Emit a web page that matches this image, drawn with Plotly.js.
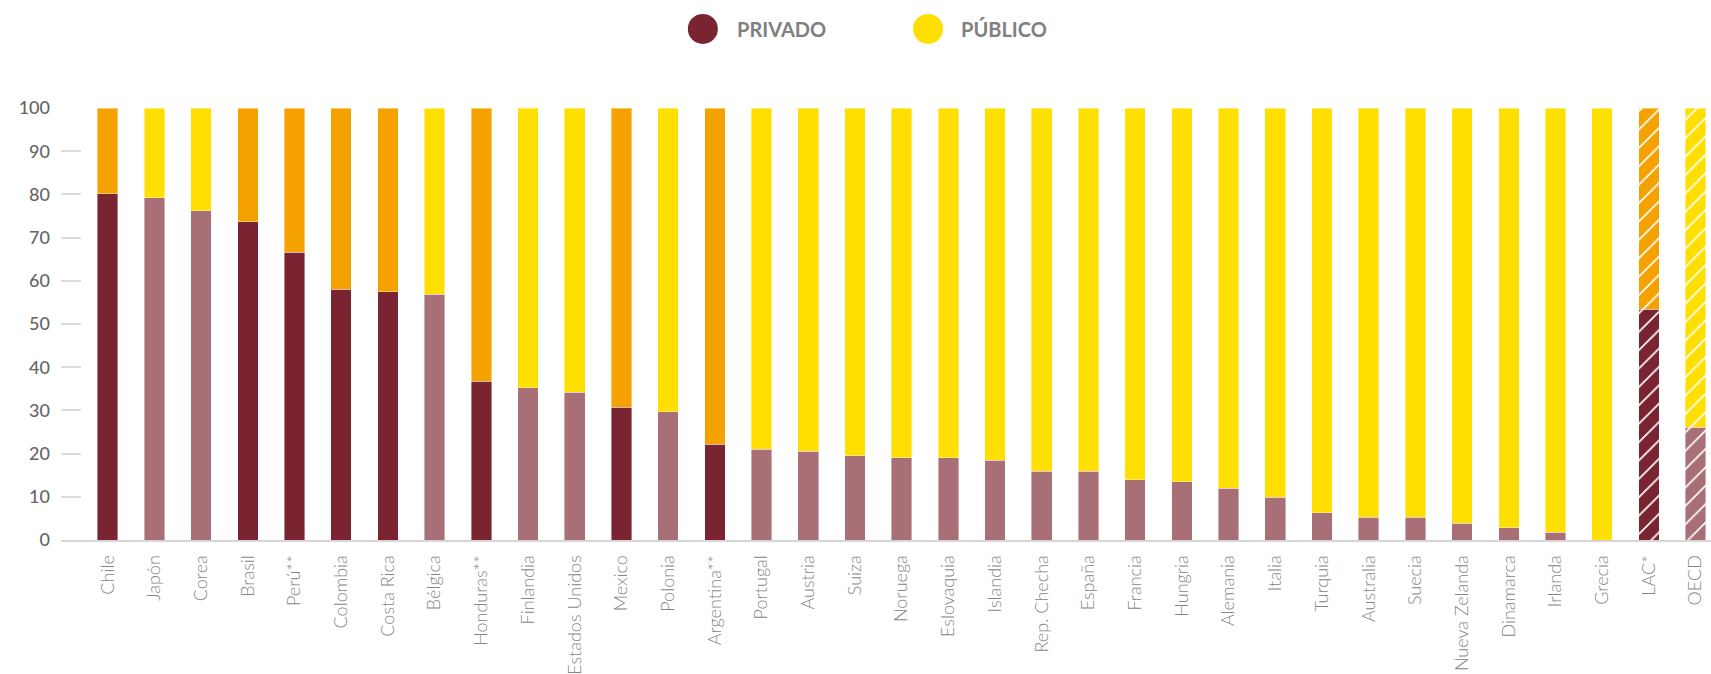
<!DOCTYPE html>
<html>
<head>
<meta charset="utf-8">
<script src="https://cdn.plot.ly/plotly-3.0.1.min.js"></script>
<style>
  html, body { margin: 0; padding: 0; background: #ffffff; }
  #chart { width: 1711px; height: 674px; }
</style>
</head>
<body>
<div id="chart"></div>
<script>
// ---- Data ----
const categories = ["Chile", "Japón", "Corea", "Brasil", "Perú**", "Colombia", "Costa Rica", "Bélgica",
  "Honduras**", "Finlandia", "Estados Unidos", "Mexico", "Polonia", "Argentina**", "Portugal", "Austria",
  "Suiza", "Noruega", "Eslovaquia", "Islandia", "Rep. Checha", "España", "Francia", "Hungria",
  "Alemania", "Italia", "Turquia", "Australia", "Suecia", "Nueva Zelanda", "Dinamarca", "Irlanda",
  "Grecia", "LAC*", "OECD"];
const groups = ["LAC", "OECD", "OECD", "LAC", "LAC", "LAC", "LAC", "OECD",
  "LAC", "OECD", "OECD", "LAC", "OECD", "LAC", "OECD", "OECD",
  "OECD", "OECD", "OECD", "OECD", "OECD", "OECD", "OECD", "OECD",
  "OECD", "OECD", "OECD", "OECD", "OECD", "OECD", "OECD", "OECD",
  "OECD", "LAC-AVG", "OECD-AVG"];
const privado = [80.2, 79.2, 76.2, 73.7, 66.6, 58.0, 57.5, 56.9,
  36.7, 35.2, 34.2, 30.7, 29.7, 22.2, 21.0, 20.6,
  19.5, 19.0, 19.0, 18.5, 15.9, 15.9, 13.9, 13.5,
  12.0, 9.9, 6.3, 5.3, 5.3, 3.9, 2.8, 1.8,
  0.0, 53.4, 26.1];
const publico = [19.8, 20.8, 23.8, 26.3, 33.4, 42.0, 42.5, 43.1,
  63.3, 64.8, 65.8, 69.3, 70.3, 77.8, 79.0, 79.4,
  80.5, 81.0, 81.0, 81.5, 84.1, 84.1, 86.1, 86.5,
  88.0, 90.1, 93.7, 94.7, 94.7, 96.1, 97.2, 98.2,
  100.0, 46.6, 73.9];
const yTicks = [0, 10, 20, 30, 40, 50, 60, 70, 80, 90, 100];
const seriesNames = ["PRIVADO", "PÚBLICO"];

// ---- Styles ----
const palette = {
  LAC:  { privado: "#7A2331", publico: "#F5A100" },
  OECD: { privado: "#A86F76", publico: "#FFDF00" }
};
const baseGroup = g => g.startsWith("LAC") ? "LAC" : "OECD";
const isAvg = g => g.endsWith("AVG");
const BAR_W = 0.44;
const edge = { width: 0.6, color: "rgba(255,255,255,0.7)" };

const mainIdx = categories.map((c, i) => i).filter(i => !isAvg(groups[i]));
const avgIdx = categories.map((c, i) => i).filter(i => isAvg(groups[i]));

function mainTrace(name, values, key) {
  return {
    type: "bar",
    name: name,
    x: mainIdx.map(i => categories[i]),
    y: mainIdx.map(i => values[i]),
    width: BAR_W,
    marker: { color: mainIdx.map(i => palette[baseGroup(groups[i])][key]), line: edge },
    hoverinfo: "x+y"
  };
}

function avgTrace(name, values, key, i) {
  const col = palette[baseGroup(groups[i])][key];
  return {
    type: "bar",
    name: name,
    x: [categories[i]],
    y: [values[i]],
    width: BAR_W,
    marker: {
      color: col,
      line: edge,
      pattern: { shape: "/", fillmode: "replace", bgcolor: col, fgcolor: "#ffffff",
                 fgopacity: 1, size: 13, solidity: 0.13 }
    },
    hoverinfo: "x+y"
  };
}

const data = [
  mainTrace(seriesNames[0], privado, "privado"),
  mainTrace(seriesNames[1], publico, "publico")
];
avgIdx.forEach(i => {
  data.push(avgTrace(seriesNames[0], privado, "privado", i));
  data.push(avgTrace(seriesNames[1], publico, "publico", i));
});

const layout = {
  width: 1711,
  height: 674,
  barmode: "stack",
  showlegend: false,
  paper_bgcolor: "#ffffff",
  plot_bgcolor: "#ffffff",
  margin: { l: 61, r: 0, t: 108, b: 134, pad: 0 },
  font: { family: "Lato, 'Open Sans', sans-serif", color: "#777777" },
  xaxis: {
    type: "category",
    categoryorder: "array",
    categoryarray: categories,
    range: [-1.0, 34.33],
    showgrid: false,
    zeroline: false,
    showline: true,
    linecolor: "#d6d6d6",
    linewidth: 2,
    ticks: "",
    tickangle: -90,
    ticklabelstandoff: 6,
    tickfont: { family: "Lato, sans-serif", size: 18, color: "#858585", weight: 300 },
    fixedrange: true
  },
  yaxis: {
    range: [0, 100],
    tickvals: yTicks,
    ticktext: yTicks.map(String),
    showgrid: false,
    zeroline: false,
    showline: false,
    ticks: "inside",
    ticklen: 20,
    tickwidth: 2,
    tickcolor: "#dcdcdc",
    ticklabelstandoff: 10,
    tickfont: { family: "Lato, sans-serif", size: 18, color: "#666666", weight: 500 },
    fixedrange: true
  },
  shapes: [
    { type: "circle", xref: "paper", yref: "paper", xsizemode: "pixel", ysizemode: "pixel",
      xanchor: 0.389, yanchor: 1.183, x0: -15, x1: 15, y0: -15, y1: 15,
      fillcolor: palette.LAC.privado, line: { width: 0 } },
    { type: "circle", xref: "paper", yref: "paper", xsizemode: "pixel", ysizemode: "pixel",
      xanchor: 0.5255, yanchor: 1.183, x0: -15, x1: 15, y0: -15, y1: 15,
      fillcolor: palette.OECD.publico, line: { width: 0 } }
  ],
  annotations: [
    { xref: "paper", yref: "paper", x: 0.4085, y: 1.183, xanchor: "left", yanchor: "middle",
      text: seriesNames[0], showarrow: false,
      font: { family: "Lato, sans-serif", size: 20, color: "#808080", weight: 700 } },
    { xref: "paper", yref: "paper", x: 0.5442, y: 1.183, xanchor: "left", yanchor: "middle",
      text: seriesNames[1], showarrow: false,
      font: { family: "Lato, sans-serif", size: 20, color: "#808080", weight: 700 } }
  ]
};

Plotly.newPlot("chart", data, layout, { displayModeBar: false, staticPlot: true });
</script>
</body>
</html>
